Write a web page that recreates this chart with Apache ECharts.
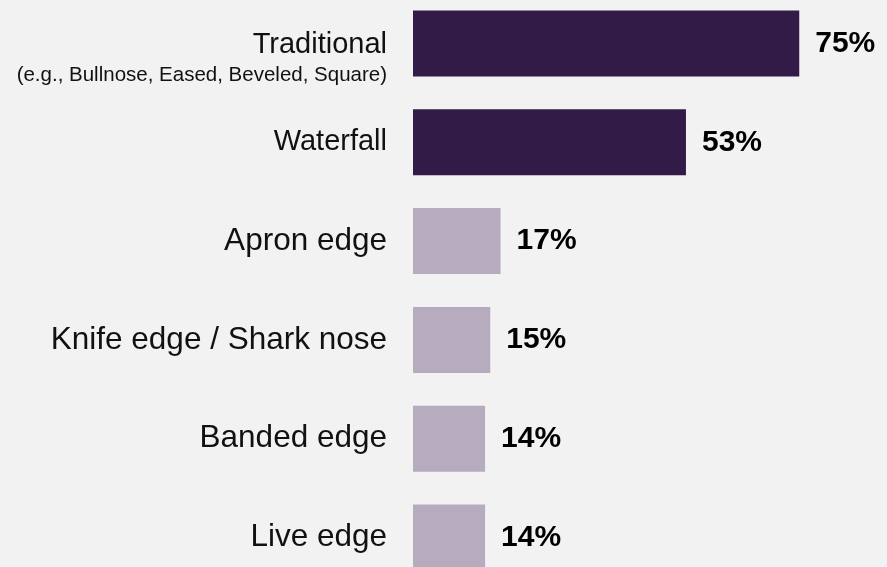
<!DOCTYPE html>
<html>
<head>
<meta charset="utf-8">
<style>
  html, body { margin: 0; padding: 0; background: #f2f2f2; }
  #chart { width: 887px; height: 567px; }
</style>
<script src="https://cdn.jsdelivr.net/npm/echarts@6/dist/echarts.min.js"></script>
</head>
<body>
<div id="chart"></div>
<script>
// Edge styles and share of respondents (%)
const categories = ['Traditional', 'Waterfall', 'Apron edge', 'Knife edge / Shark nose', 'Banded edge', 'Live edge'];
const values = [75, 53, 17, 15, 14, 14];
const notes = ['(e.g., Bullnose, Eased, Beveled, Square)', '', '', '', '', ''];
const highlighted = [true, true, false, false, false, false];

const DARK = '#321b46';
const LIGHT = '#b6acbd';
const FONT = '"Liberation Sans", Arial, sans-serif';

const chart = echarts.init(document.getElementById('chart'), null, { renderer: 'canvas' });

chart.setOption({
  backgroundColor: '#f2f2f2',
  animation: false,
  grid: { left: 413, top: -6, width: 515, height: 593, containLabel: false, outerBoundsMode: 'none' },
  xAxis: {
    type: 'value', min: 0, max: 100, show: false
  },
  yAxis: {
    type: 'category',
    inverse: true,
    data: categories,
    axisLine: { show: false },
    axisTick: { show: false },
    axisLabel: {
      margin: 26,
      color: '#111',
      fontFamily: FONT,
      fontSize: 31.5,
      formatter: function (name, idx) {
        // a blank first line keeps the main name centred on its bar
        if (notes[idx]) return '{sp| }\n{hl|' + name + '}\n{note|' + notes[idx] + '}';
        return highlighted[idx] ? '{hl|' + name + '}' : name;
      },
      rich: {
        sp: { fontSize: 10, lineHeight: 34 },
        hl: { fontFamily: FONT, fontSize: 29, color: '#111', lineHeight: 30 },
        note: { fontFamily: FONT, fontSize: 20.5, color: '#111', lineHeight: 30 }
      }
    }
  },
  series: [{
    type: 'bar',
    barWidth: 66,
    data: values.map((v, i) => ({ value: v, itemStyle: { color: highlighted[i] ? DARK : LIGHT } })),
    label: {
      show: true,
      position: 'right',
      distance: 16,
      formatter: '{c}%',
      fontFamily: FONT,
      fontWeight: 'bold',
      fontSize: 30,
      color: '#000'
    }
  }]
});
</script>
</body>
</html>
